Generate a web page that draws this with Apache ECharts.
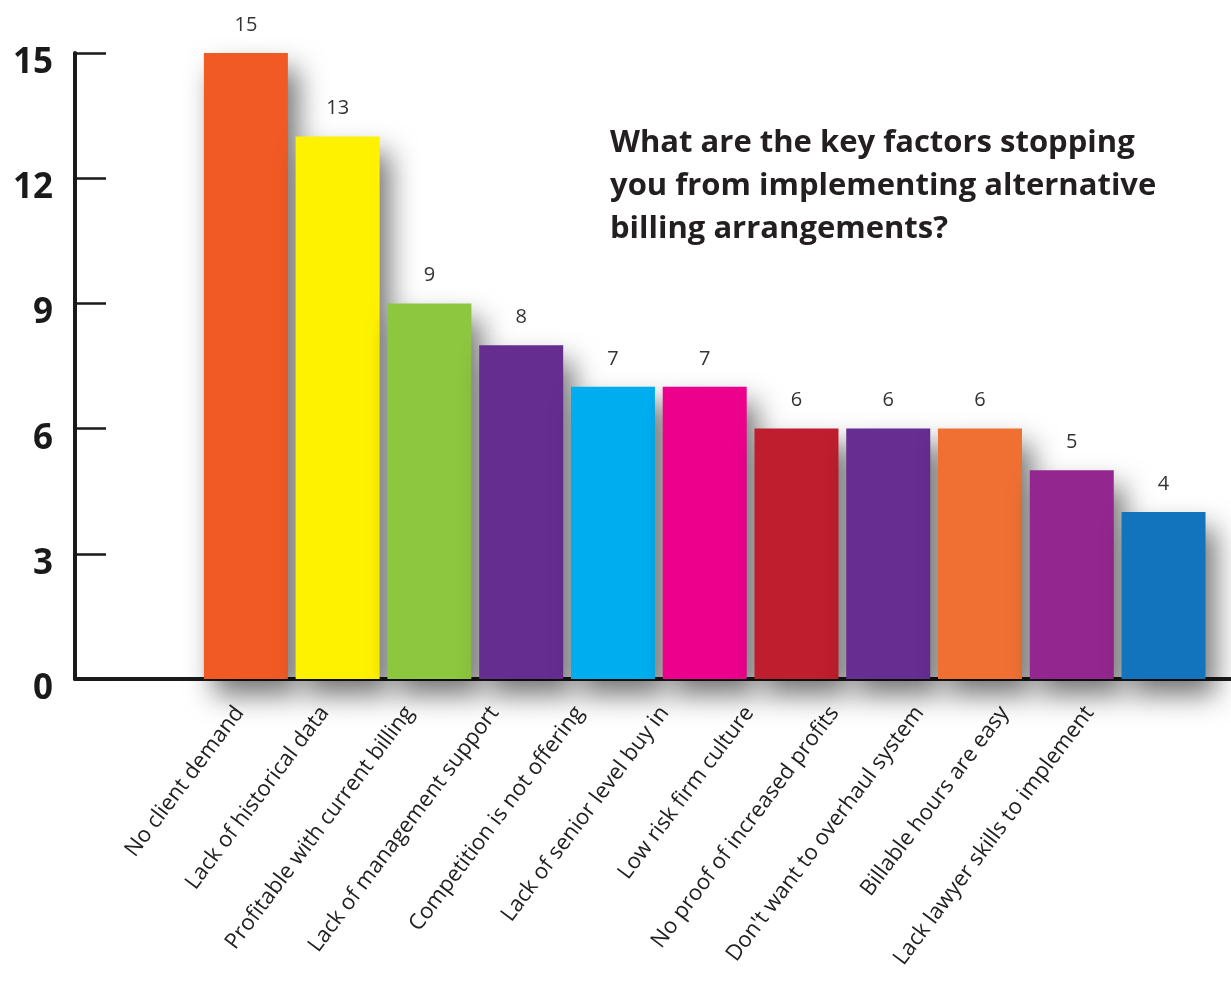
<!DOCTYPE html>
<html>
<head>
<meta charset="utf-8">
<script src="https://cdn.jsdelivr.net/npm/echarts@6/dist/echarts.min.js"></script>
<style>html,body{margin:0;padding:0;background:#fff}#c{width:1231px;height:981px}</style>
</head>
<body>
<div id="c"></div>
<script>
const categories = ["No client demand","Lack of historical data","Profitable with current billing","Lack of management support","Competition is not offering","Lack of senior level buy in","Low risk firm culture","No proof of increased profits","Don't want to overhaul system","Billable hours are easy","Lack lawyer skills to implement"];
const values = [15, 13, 9, 8, 7, 7, 6, 6, 6, 5, 4];
const barColors = ["#F15A24","#FFF200","#8DC63F","#662D91","#00AEEF","#EC008C","#BE1E2D","#672D91","#F07034","#93278F","#1174BC"];
const yTicks = [0, 3, 6, 9, 12, 15];
const title = "What are the key factors stopping\nyou from implementing alternative\nbilling arrangements?";

const chart = echarts.init(document.getElementById('c'), null, {renderer:'canvas'});
const TOP = 53, BOTTOM = 302;
const option = {
  animation: false,
  backgroundColor: '#fff',
  title: {
    text: title, left: 605, top: 117,
    textStyle: {fontFamily: 'Open Sans', fontWeight: 'bold', fontSize: 31, lineHeight: 43, color: '#231f20'}
  },
  grid: [
    {left: 75, right: 0, top: TOP, bottom: BOTTOM},
    {left: 200, right: 21.6, top: TOP, bottom: BOTTOM},
    {left: 197, width: 935, top: TOP, bottom: BOTTOM}
  ],
  xAxis: [
    {gridIndex: 0, type: 'value', min: 0, max: 1,
     axisLine: {show: true, lineStyle: {color: '#1a1a1a', width: 4}},
     axisTick: {show: false}, axisLabel: {show: false}, splitLine: {show: false}},
    {gridIndex: 1, type: 'category', data: categories, show: false},
    {gridIndex: 2, type: 'category', data: categories,
     axisLine: {show: false}, axisTick: {show: false}, splitLine: {show: false},
     axisLabel: {rotate: 53, margin: 30, interval: 0, fontFamily: 'Open Sans', fontSize: 22, color: '#222'}}
  ],
  yAxis: [
    {gridIndex: 0, type: 'value', min: yTicks[0], max: yTicks[yTicks.length-1], interval: yTicks[1]-yTicks[0],
     axisLine: {show: true, lineStyle: {color: '#1a1a1a', width: 4}},
     axisTick: {show: true, inside: true, length: 31, lineStyle: {color: '#1a1a1a', width: 2.5}},
     splitLine: {show: false},
     axisLabel: {margin: 22, fontFamily: 'Open Sans', fontWeight: 'bold', fontSize: 35, color: '#1a1a1a', verticalAlign: 'top', lineHeight: 20}},
    {gridIndex: 1, type: 'value', min: 0, max: 15, show: false},
    {gridIndex: 2, type: 'value', min: 0, max: 15, show: false}
  ],
  series: [{
    type: 'bar', xAxisIndex: 1, yAxisIndex: 1, barWidth: 84, z: 3,
    data: values.map((v, i) => ({value: v, itemStyle: {color: barColors[i]}})),
    itemStyle: {shadowColor: 'rgba(0,0,0,0.55)', shadowBlur: 28, shadowOffsetX: 10, shadowOffsetY: 16},
    label: {show: true, position: 'top', distance: 18, fontFamily: 'Open Sans', fontSize: 20, color: '#333'}
  }]
};
chart.setOption(option);
</script>
</body>
</html>
